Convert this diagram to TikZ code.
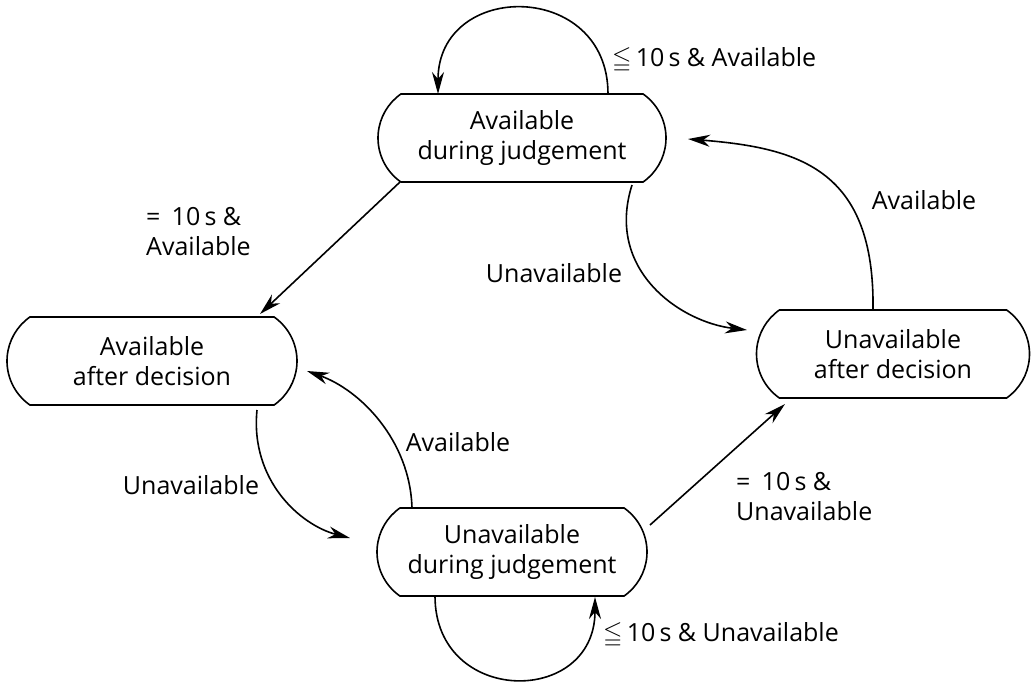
\documentclass[tikz,border=0pt]{standalone}
\usepackage{fontspec}
\usepackage{amssymb}
\setmainfont{Open Sans}
\usetikzlibrary{shapes.misc,arrows.meta,calc}
\begin{document}
\begin{tikzpicture}[x=1pt,y=-1pt,
  state/.style={draw, line width=1.6pt, rounded rectangle, rounded rectangle arc length=110,
    minimum height=88pt, inner sep=0pt, align=center, font=\fontsize{25}{30}\selectfont},
  lbl/.style={font=\fontsize{25}{30}\selectfont, inner sep=0pt, align=left},
  edge/.style={line width=1.6pt, -{Stealth[length=22pt,width=12pt,inset=7pt]}}]
\useasboundingbox (0,0) rectangle (1034,681);

% states
\node[state, minimum width=288pt] (A) at (522,138) {Available\\during judgement};
\node[state, minimum width=290pt] (B) at (152,361) {Available\\after decision};
\node[state, minimum width=270pt] (C) at (512,552) {Unavailable\\during judgement};
\node[state, minimum width=273pt] (D) at (893,354) {Unavailable\\after decision};

% self loops
\draw[edge] ($(A)+(86,-44)$) .. controls +(0,-114) and +(0,-114) .. ($(A)+(-84,-44)$);
\draw[edge] ($(C)+(-77,44)$) .. controls +(0,110) and +(0,110) .. ($(C)+(83,45)$);

% transitions between states
\draw[edge] ($(A)+(-122,44)$) -- ($(B)+(108,-47)$);
\draw[edge] ($(A)+(110,47)$) .. controls +(-27,85) and +(-67,-8) .. ($(D)+(-146,-24)$);
\draw[edge] ($(D)+(-20,-44)$) .. controls +(2,-140) and +(112,9) .. ($(A)+(166,1)$);
\draw[edge] ($(B)+(105,49)$) .. controls +(-7,70) and +(-50,-13) .. ($(C)+(-162,-14)$);
\draw[edge] ($(C)+(-100,-44)$) .. controls +(-2,-68) and +(53,19) .. ($(B)+(155,10)$);
\draw[edge] ($(C)+(138,-27)$) -- ($(D)+(-108,50)$);

% transition labels
\node[lbl, anchor=west] (l1) at (612,60) {$\leqq$\,10\,s \& Available};
\node[lbl, anchor=west] (l2) at (146,232) {=\hspace{0.45em}10\,s \&\\Available};
\node[lbl] (l3) at (554,273) {Unavailable};
\node[lbl] (l4) at (924,200) {Available};
\node[lbl] (l5) at (191,485) {Unavailable};
\node[lbl] (l6) at (458,442) {Available};
\node[lbl, anchor=west] (l7) at (736,497) {=\hspace{0.45em}10\,s \&\\Unavailable};
\node[lbl, anchor=west] (l8) at (603,635) {$\leqq$\,10\,s \& Unavailable};
\end{tikzpicture}
\end{document}
